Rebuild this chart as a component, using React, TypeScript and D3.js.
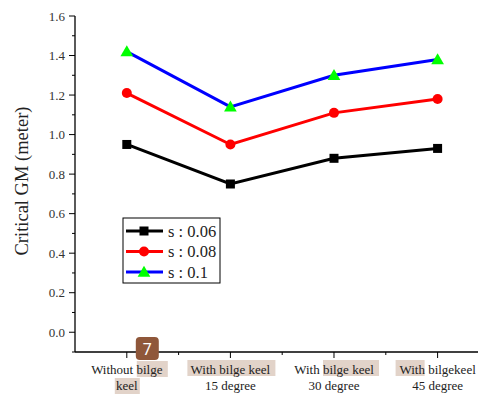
import React, { useEffect, useRef } from 'react';
import * as d3 from 'd3';

const categories = ['Without bilge keel', 'With bilge keel 15 degree', 'With bilge keel 30 degree', 'With bilgekeel 45 degree'];
const labelLines = [
  ['Without bilge', 'keel'],
  ['With bilge keel', '15 degree'],
  ['With bilge keel', '30 degree'],
  ['With bilgekeel', '45 degree'],
];
const s006 = [0.95, 0.75, 0.88, 0.93];
const s008 = [1.21, 0.95, 1.11, 1.18];
const s01 = [1.42, 1.14, 1.30, 1.38];
const yTicks = [0.0, 0.2, 0.4, 0.6, 0.8, 1.0, 1.2, 1.4, 1.6];

const series = [
  { name: 's : 0.06', values: s006, color: '#000000', marker: 'square', markerColor: '#000000' },
  { name: 's : 0.08', values: s008, color: '#ff0000', marker: 'circle', markerColor: '#ff0000' },
  { name: 's : 0.1', values: s01, color: '#0000ff', marker: 'triangle', markerColor: '#00ff00' },
];

const W = 481;
const H = 395;
const FONT = '"Liberation Serif", "DejaVu Serif", serif';

const App = () => {
  const ref = useRef<SVGSVGElement>(null);

  useEffect(() => {
    const svg = d3.select(ref.current);
    svg.selectAll('*').remove();

    const x = d3.scaleLinear().domain([-0.5, 3.39]).range([75, 478]);
    const y = d3.scaleLinear().domain([-0.1, 1.6]).range([352, 16]);

    // highlight boxes behind some label words (as in the reference)
    const hl = svg.append('g').attr('fill', '#e2d3c9');
    hl.append('rect').attr('x', x(0) + 10).attr('y', 361).attr('width', 31).attr('height', 16);
    hl.append('rect').attr('x', x(0) - 12).attr('y', 378).attr('width', 25).attr('height', 16);
    hl.append('rect').attr('x', x(1) - 43).attr('y', 360).attr('width', 88).attr('height', 16);
    hl.append('rect').attr('x', x(2) - 11).attr('y', 360).attr('width', 56).attr('height', 16);
    hl.append('rect').attr('x', x(3) - 42).attr('y', 360).attr('width', 29).attr('height', 16);

    // y axis
    const yAxis = svg.append('g').attr('transform', `translate(${x(-0.5)},0)`);
    yAxis.append('line').attr('x1', 0).attr('x2', 0).attr('y1', y(1.6)).attr('y2', y(-0.1))
      .attr('stroke', '#000').attr('stroke-width', 1.3);
    d3.range(-1, 17).forEach(i => {
      const v = i / 10;
      const major = i % 2 === 0 && i >= 0;
      yAxis.append('line').attr('x1', major ? -6 : -3).attr('x2', 0)
        .attr('y1', y(v)).attr('y2', y(v)).attr('stroke', '#000').attr('stroke-width', 1);
    });
    yTicks.forEach(v => {
      yAxis.append('text').attr('x', -10).attr('y', y(v)).attr('dy', '0.35em')
        .attr('text-anchor', 'end').attr('font-family', FONT).attr('font-size', 13)
        .attr('fill', '#333').text(v.toFixed(1));
    });

    // x axis
    const xAxis = svg.append('g').attr('transform', `translate(0,${y(-0.1)})`);
    xAxis.append('line').attr('x1', x(-0.5)).attr('x2', x(3.39)).attr('y1', 0).attr('y2', 0)
      .attr('stroke', '#000').attr('stroke-width', 1.3);
    categories.forEach((c, i) => {
      xAxis.append('line').attr('x1', x(i)).attr('x2', x(i)).attr('y1', 0).attr('y2', 6)
        .attr('stroke', '#000');
      if (i > 0) {
        xAxis.append('line').attr('x1', x(i - 0.5)).attr('x2', x(i - 0.5)).attr('y1', 0).attr('y2', 3)
          .attr('stroke', '#000');
      }
      const t = xAxis.append('text').attr('text-anchor', 'middle').attr('font-family', FONT)
        .attr('font-size', 13).attr('fill', '#222');
      labelLines[i].forEach((ln, k) => {
        t.append('tspan').attr('x', x(i)).attr('y', 22 + k * 16).text(ln);
      });
    });

    // y label
    svg.append('text').attr('transform', `translate(28,181) rotate(-90)`)
      .attr('text-anchor', 'middle').attr('font-family', FONT).attr('font-size', 18.5)
      .attr('fill', '#222').text('Critical GM (meter)');

    const drawMarker = (g: any, type: string, cx: number, cy: number, color: string) => {
      if (type === 'square') {
        g.append('rect').attr('x', cx - 4.5).attr('y', cy - 4.5).attr('width', 9).attr('height', 9).attr('fill', color);
      } else if (type === 'circle') {
        g.append('circle').attr('cx', cx).attr('cy', cy).attr('r', 5).attr('fill', color);
      } else {
        g.append('path').attr('d', d3.symbol().type(d3.symbolTriangle).size(70)()!)
          .attr('transform', `translate(${cx},${cy + 1})`).attr('fill', color);
      }
    };

    const line = d3.line<number>().x((_, i) => x(i)).y(d => y(d));
    series.forEach(s => {
      svg.append('path').datum(s.values).attr('d', line).attr('fill', 'none')
        .attr('stroke', s.color).attr('stroke-width', 3);
      const g = svg.append('g');
      s.values.forEach((v, i) => drawMarker(g, s.marker, x(i), y(v), s.markerColor));
    });

    // legend
    const lg = svg.append('g').attr('transform', 'translate(123,218)');
    lg.append('rect').attr('width', 97).attr('height', 65).attr('fill', '#fff')
      .attr('stroke', '#000').attr('stroke-width', 1);
    series.forEach((s, i) => {
      const ly = 13 + i * 20.5;
      lg.append('line').attr('x1', 3).attr('x2', 40).attr('y1', ly).attr('y2', ly)
        .attr('stroke', s.color).attr('stroke-width', 3);
      drawMarker(lg, s.marker, 21, ly, s.markerColor);
      lg.append('text').attr('x', 45).attr('y', ly).attr('dy', '0.35em')
        .attr('font-family', FONT).attr('font-size', 16.5).attr('fill', '#222').text(s.name);
    });

    // badge
    const b = svg.append('g').attr('transform', `translate(${x(0) + 9},337)`);
    b.append('rect').attr('width', 23).attr('height', 23).attr('rx', 4).attr('fill', '#8f573a');
    b.append('text').attr('x', 11.5).attr('y', 12).attr('dy', '0.35em').attr('text-anchor', 'middle')
      .attr('font-family', 'Roboto, sans-serif').attr('font-size', 16).attr('fill', '#fff').text('7');
  }, []);

  return (
    <div style={{ position: 'absolute', left: 0, top: 0 }}>
      <svg ref={ref} width={W} height={H} style={{ display: 'block', background: '#fff' }} />
    </div>
  );
};

export default App;
